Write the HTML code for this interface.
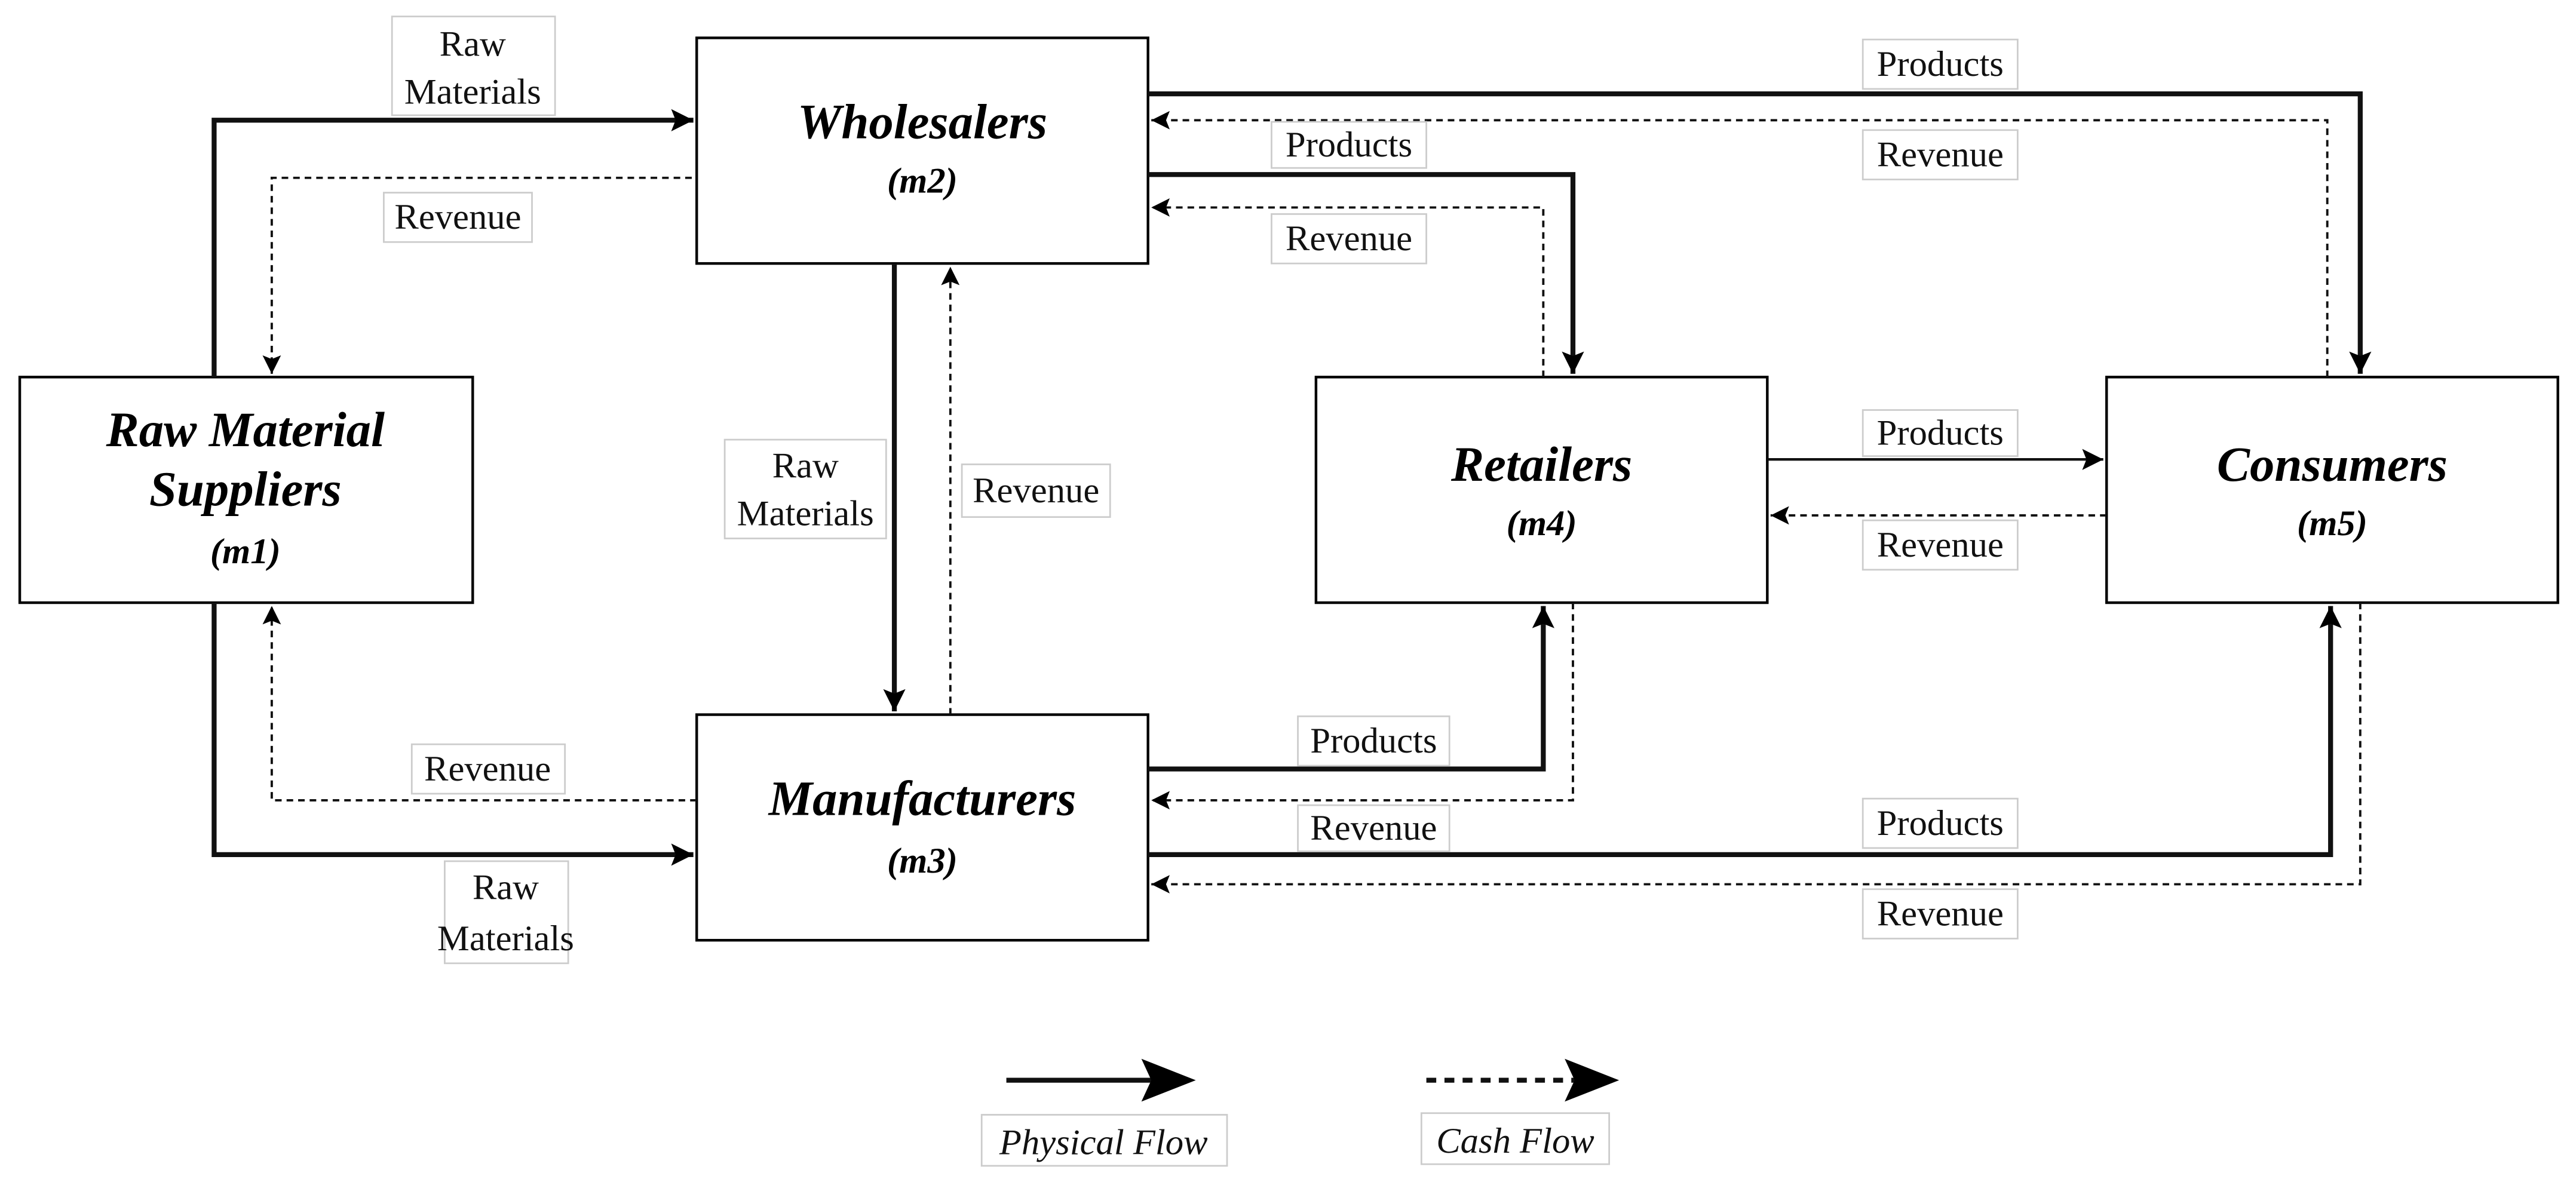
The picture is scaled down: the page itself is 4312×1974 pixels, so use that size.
<!DOCTYPE html>
<html><head><meta charset="utf-8"><style>html,body{margin:0;padding:0;background:#fff}svg{display:block}</style></head><body>
<svg width="4312" height="1974" viewBox="0 0 1564 716" preserveAspectRatio="none" xmlns="http://www.w3.org/2000/svg" font-family="Liberation Serif, serif">
<defs>
<marker id="a" viewBox="0 0 10 10" refX="10" refY="5" markerWidth="4.5" markerHeight="4.5" orient="auto" markerUnits="strokeWidth"><path d="M0,0 L10,5 L0,10 L2,5 z" fill="#000"/></marker>
<marker id="b" viewBox="0 0 10 10" refX="10" refY="5" markerWidth="8" markerHeight="8" orient="auto" markerUnits="strokeWidth"><path d="M0,0 L10,5 L0,10 L2,5 z" fill="#000"/></marker>
<marker id="c" viewBox="0 0 10 10" refX="10" refY="5" markerWidth="8" markerHeight="8" orient="auto" markerUnits="strokeWidth"><path d="M0,0 L10,5 L0,10 L2,5 z" fill="#000"/></marker>
</defs>
<g fill="#fff" stroke="#000" stroke-width="1.6">
<rect x="423" y="23" width="274" height="137"/>
<rect x="12" y="229" width="275" height="137"/>
<rect x="423" y="434" width="274" height="137"/>
<rect x="799" y="229" width="274" height="137"/>
<rect x="1279" y="229" width="274" height="137"/>
</g>
<g fill="none" stroke="#111">
<g stroke-width="3" marker-end="url(#a)">
<polyline points="130,229 130,73 421,73"/>
<polyline points="130,366 130,519 421,519"/>
<polyline points="543,160 543,432"/>
<polyline points="697,57 1433,57 1433,227"/>
<polyline points="697,106 955,106 955,227"/>
<polyline points="697,467 937,467 937,368"/>
<polyline points="697,519 1415,519 1415,368"/>
</g>
<g stroke-width="1.4" stroke-dasharray="4,3" marker-end="url(#b)">
<polyline points="420,108 165,108 165,227"/>
<polyline points="423,486 165,486 165,368"/>
<polyline points="577,434 577,162"/>
<polyline points="1413,229 1413,73 699,73"/>
<polyline points="937,229 937,126 699,126"/>
<polyline points="1279,313 1075,313"/>
<polyline points="955,366 955,486 699,486"/>
<polyline points="1433,366 1433,537 699,537"/>
</g>
<polyline points="1073,279 1277,279" stroke-width="1.6" marker-end="url(#b)"/>
<polyline points="611,656 700,656" stroke-width="3"/>
<polyline points="866,656 975,656" stroke-width="3" stroke-dasharray="6,5"/>
</g>
<path d="M693,643 L726,656 L693,669 L699,656 z" fill="#000"/>
<path d="M950,643 L983,656 L950,669 L956,656 z" fill="#000"/>
<g fill="#fff" stroke="#ccc" stroke-width="1">
<rect x="238" y="10" width="99" height="60"/>
<rect x="233" y="117" width="90" height="30"/>
<rect x="270" y="523" width="75" height="62"/>
<rect x="250" y="452" width="93" height="30"/>
<rect x="440" y="267" width="98" height="60"/>
<rect x="584" y="282" width="90" height="32"/>
<rect x="1131" y="24" width="94" height="30"/>
<rect x="1131" y="79" width="94" height="30"/>
<rect x="772" y="74" width="94" height="28"/>
<rect x="772" y="130" width="94" height="30"/>
<rect x="1131" y="249" width="94" height="28"/>
<rect x="1131" y="316" width="94" height="30"/>
<rect x="788" y="435" width="92" height="30"/>
<rect x="788" y="489" width="92" height="28"/>
<rect x="1131" y="485" width="94" height="30"/>
<rect x="1131" y="540" width="94" height="30"/>
<rect x="596" y="677" width="149" height="31"/>
<rect x="863" y="676" width="114" height="31"/>
</g>
<g font-size="22" fill="#111" text-anchor="middle">
<text x="287" y="34">Raw</text><text x="287" y="63">Materials</text>
<text x="278" y="139">Revenue</text>
<text x="307" y="546">Raw</text><text x="307" y="577">Materials</text>
<text x="296" y="474">Revenue</text>
<text x="489" y="290">Raw</text><text x="489" y="319">Materials</text>
<text x="629" y="305">Revenue</text>
<text x="1178" y="46">Products</text>
<text x="1178" y="101">Revenue</text>
<text x="819" y="95">Products</text>
<text x="819" y="152">Revenue</text>
<text x="1178" y="270">Products</text>
<text x="1178" y="338">Revenue</text>
<text x="834" y="457">Products</text>
<text x="834" y="510">Revenue</text>
<text x="1178" y="507">Products</text>
<text x="1178" y="562">Revenue</text>
<text x="670" y="701" font-style="italic">Physical Flow</text>
<text x="920" y="700" font-style="italic">Cash Flow</text>
</g>
<g font-size="30" font-weight="bold" font-style="italic" fill="#000" text-anchor="middle">
<text x="560" y="84">Wholesalers</text>
<text x="560" y="117" font-size="22">(m2)</text>
<text x="149" y="271">Raw Material</text>
<text x="149" y="307">Suppliers</text>
<text x="149" y="342" font-size="22">(m1)</text>
<text x="560" y="495">Manufacturers</text>
<text x="560" y="530" font-size="22">(m3)</text>
<text x="936" y="292">Retailers</text>
<text x="936" y="325" font-size="22">(m4)</text>
<text x="1416" y="292">Consumers</text>
<text x="1416" y="325" font-size="22">(m5)</text>
</g>
</svg>
</body></html>
